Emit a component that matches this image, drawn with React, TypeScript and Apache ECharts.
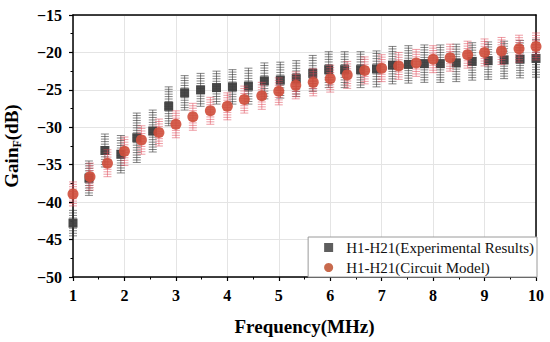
import React, { useEffect, useRef } from "react";
import * as echarts from "echarts";

// Experimental results (30 points)
const expFreq = [1.0, 1.31, 1.62, 1.93, 2.24, 2.55, 2.86, 3.17, 3.48, 3.79, 4.1, 4.41, 4.72, 5.03, 5.34, 5.66, 5.97, 6.28, 6.59, 6.9, 7.21, 7.52, 7.83, 8.14, 8.45, 8.76, 9.07, 9.38, 9.69, 10.0];
const expGain = [-42.8, -36.8, -33.1, -33.6, -31.4, -30.5, -27.2, -25.4, -25.0, -24.7, -24.6, -24.5, -23.8, -23.7, -23.5, -22.8, -22.3, -22.3, -22.3, -22.2, -21.7, -21.6, -21.5, -21.5, -21.4, -21.2, -21.1, -21.0, -20.9, -20.8];
const expErr = [1.7, 2.3, 2.2, 2.5, 3.3, 2.8, 2.6, 2.3, 2.2, 2.2, 2.3, 2.4, 2.4, 2.4, 2.4, 2.4, 2.4, 2.4, 2.4, 2.4, 2.5, 2.5, 2.5, 2.5, 2.5, 2.5, 2.5, 2.5, 2.5, 2.5];

// Circuit model (28 points)
const modelFreq = [1.0, 1.33, 1.67, 2.0, 2.33, 2.67, 3.0, 3.33, 3.67, 4.0, 4.33, 4.67, 5.0, 5.33, 5.67, 6.0, 6.33, 6.67, 7.0, 7.33, 7.67, 8.0, 8.33, 8.67, 9.0, 9.33, 9.67, 10.0];
const modelGain = [-38.9, -36.6, -34.8, -33.2, -31.7, -30.7, -29.6, -28.6, -27.8, -27.2, -26.3, -25.8, -25.2, -24.4, -24.0, -23.5, -23.0, -22.4, -22.1, -21.8, -21.4, -20.9, -20.7, -20.3, -20.0, -19.8, -19.5, -19.2];
const modelErr = [1.6, 1.8, 1.8, 1.9, 1.9, 1.8, 1.8, 1.8, 1.8, 1.8, 1.8, 1.8, 1.8, 1.8, 1.8, 1.8, 1.8, 1.8, 1.8, 1.8, 1.8, 1.8, 1.8, 1.8, 1.8, 1.8, 1.8, 1.8];

const xTicks = { min: 1, max: 10, interval: 1 };
const yTicks = { min: -50, max: -15, interval: 5 };

const FONT = "'Liberation Serif', 'Times New Roman', serif";

function errRender(color: string, opacity: number, half: number) {
  return (params: any, api: any) => {
    const x = api.value(0);
    const lo = api.value(1);
    const hi = api.value(2);
    const top = api.coord([x, hi]);
    const bot = api.coord([x, lo]);
    const style = { stroke: color, lineWidth: 0.9, opacity };
    const children: any[] = [
      { type: "line", shape: { x1: top[0], y1: top[1], x2: bot[0], y2: bot[1] }, style },
    ];
    const h = bot[1] - top[1];
    const n = Math.max(2, Math.round(h / 2.5));
    for (let k = 0; k <= n; k++) {
      const y = top[1] + (h * k) / n;
      children.push({ type: "line", shape: { x1: top[0] - half, y1: y, x2: top[0] + half, y2: y }, style });
    }
    return { type: "group", children };
  };
}

export default function App() {
  const ref = useRef<HTMLDivElement>(null);
  useEffect(() => {
    if (!ref.current) return;
    const chart = echarts.init(ref.current, null, { renderer: "svg" });
    const expPts = expFreq.map((f, i) => [f, expGain[i]]);
    const modelPts = modelFreq.map((f, i) => [f, modelGain[i]]);
    const expBars = expFreq.map((f, i) => [f, expGain[i] - expErr[i], expGain[i] + expErr[i]]);
    const modelBars = modelFreq.map((f, i) => [f, modelGain[i] - modelErr[i], modelGain[i] + modelErr[i]]);
    const minus = (v: number) => (v < 0 ? "\u2212" + Math.abs(v) : String(v));
    chart.setOption({
      animation: false,
      backgroundColor: "#fff",
      grid: { left: 73, right: 14, top: 15, bottom: 65, containLabel: false, outerBoundsMode: "none" },
      legend: {
        orient: "vertical",
        right: 13,
        bottom: 65,
        backgroundColor: "#fff",
        borderColor: "#9a9a9a",
        borderWidth: 1,
        borderRadius: 0,
        padding: [3, 3, 2, 16],
        itemGap: 5,
        itemWidth: 9,
        itemHeight: 9,
        textStyle: { fontFamily: FONT, fontSize: 15, color: "#111", padding: [0, 0, 0, 8] },
        data: [
          { name: "H1-H21(Experimental Results)", icon: "rect", itemStyle: { color: "#555" } },
          { name: "H1-H21(Circuit Model)", icon: "circle", itemStyle: { color: "#c25a3a" } },
        ],
      },
      xAxis: [
        {
          type: "value",
          position: "bottom",
          min: xTicks.min,
          max: xTicks.max,
          interval: xTicks.interval,
          name: "Frequency(MHz)",
          nameLocation: "middle",
          nameGap: 40,
          nameTextStyle: { fontFamily: FONT, fontSize: 19, fontWeight: "bold", color: "#000" },
          axisLine: { show: true, onZero: false, lineStyle: { color: "#000", width: 1.5 } },
          axisTick: { show: true, inside: false, length: 4, lineStyle: { color: "#000", width: 1.2 } },
          minorTick: { show: true, splitNumber: 2, length: 2.5, lineStyle: { color: "#000", width: 1 } },
          axisLabel: { fontFamily: FONT, fontSize: 16, fontWeight: "bold", color: "#000", margin: 10 },
          splitLine: { show: true, lineStyle: { color: "#e4e4e4", width: 1 } },
        },
        {
          type: "value",
          position: "top",
          min: xTicks.min,
          max: xTicks.max,
          interval: xTicks.interval,
          axisLine: { show: true, onZero: false, lineStyle: { color: "#000", width: 1.5 } },
          axisTick: { show: false },
          axisLabel: { show: false },
          splitLine: { show: false },
        },
      ],
      yAxis: [
        {
          type: "value",
          position: "left",
          min: yTicks.min,
          max: yTicks.max,
          interval: yTicks.interval,
          name: "{a|Gain}{b|F}{a|(dB)}",
          nameLocation: "middle",
          nameGap: 50,
          nameTextStyle: {
            rich: {
              a: { fontFamily: FONT, fontSize: 19, fontWeight: "bold", color: "#000" },
              b: { fontFamily: FONT, fontSize: 12, fontWeight: "bold", color: "#000", verticalAlign: "bottom", padding: [12, 0, 0, 0] },
            },
          },
          axisLine: { show: true, onZero: false, lineStyle: { color: "#000", width: 1.5 } },
          axisTick: { show: true, inside: false, length: 4, lineStyle: { color: "#000", width: 1.2 } },
          minorTick: { show: true, splitNumber: 2, length: 2.5, lineStyle: { color: "#000", width: 1 } },
          axisLabel: { fontFamily: FONT, fontSize: 16, fontWeight: "bold", color: "#000", margin: 11, formatter: minus },
          splitLine: { show: true, lineStyle: { color: "#e4e4e4", width: 1 } },
        },
        {
          type: "value",
          position: "right",
          min: yTicks.min,
          max: yTicks.max,
          interval: yTicks.interval,
          axisLine: { show: true, onZero: false, lineStyle: { color: "#000", width: 1.5 } },
          axisTick: { show: false },
          axisLabel: { show: false },
          splitLine: { show: false },
        },
      ],
      series: [
        {
          type: "custom",
          name: "expErr",
          renderItem: errRender("#2e2e2e", 0.65, 4),
          data: expBars,
          encode: { x: 0, y: [1, 2] },
          silent: true,
          z: 1,
        },
        {
          type: "scatter",
          name: "H1-H21(Experimental Results)",
          symbol: "rect",
          symbolSize: 9,
          itemStyle: { color: "#3f3f3f", opacity: 0.95 },
          data: expPts,
          z: 2,
        },
        {
          type: "custom",
          name: "modelErr",
          renderItem: errRender("#e04858", 0.6, 4),
          data: modelBars,
          encode: { x: 0, y: [1, 2] },
          silent: true,
          z: 3,
        },
        {
          type: "scatter",
          name: "H1-H21(Circuit Model)",
          symbol: "circle",
          symbolSize: 11,
          itemStyle: { color: "#cf4f3c", opacity: 0.9 },
          data: modelPts,
          z: 4,
        },
      ],
    });
    return () => chart.dispose();
  }, []);
  return <div ref={ref} style={{ width: 550, height: 342, position: "absolute", left: 0, top: 0 }} />;
}
